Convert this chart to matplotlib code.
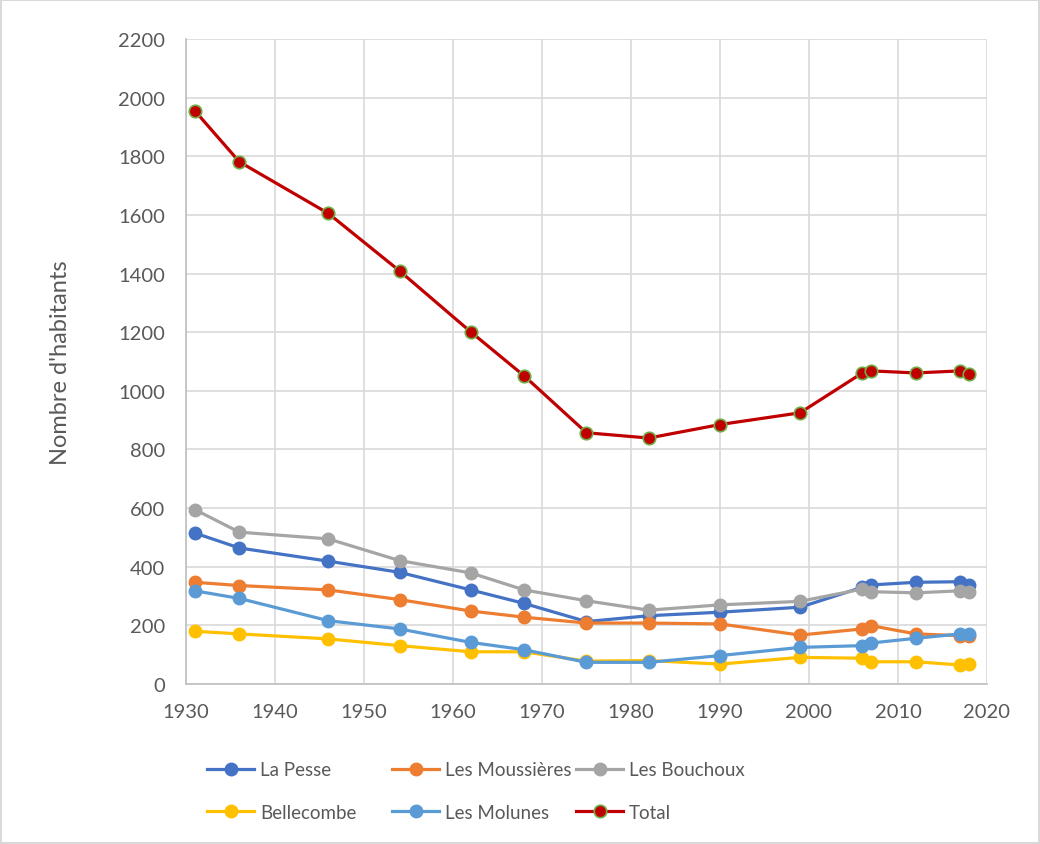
import matplotlib
matplotlib.use('Agg')
import matplotlib.pyplot as plt

# recensements
years = [1931, 1936, 1946, 1954, 1962, 1968, 1975, 1982, 1990, 1999, 2006, 2007, 2012, 2017, 2018]
la_pesse = [515, 464, 419, 381, 321, 275, 213, 233, 245, 262, 330, 338, 347, 349, 338]
moussieres = [347, 336, 321, 288, 249, 228, 208, 208, 205, 167, 188, 199, 171, 165, 165]
bouchoux = [595, 518, 495, 421, 379, 321, 284, 252, 270, 282, 324, 315, 311, 318, 313]
bellecombe = [180, 171, 154, 131, 110, 110, 78, 80, 68, 91, 88, 76, 76, 65, 70]
molunes = [318, 292, 216, 188, 142, 117, 74, 74, 97, 125, 131, 140, 156, 171, 171]
total = [1955, 1781, 1605, 1409, 1201, 1051, 857, 839, 885, 925, 1061, 1068, 1061, 1068, 1057]

plt.rcParams['font.family'] = ['Lato', 'DejaVu Sans']
txt = '#595959'

fig = plt.figure(figsize=(10.4, 8.45), dpi=100)
fig.patch.set_edgecolor('#d9d9d9')
fig.patch.set_linewidth(1.5)
ax = fig.add_axes([0.1788, 0.1893, 0.7702, 0.7634])

series = [
    ('La Pesse', la_pesse, '#4472c4'),
    ('Les Moussières', moussieres, '#ed7d31'),
    ('Les Bouchoux', bouchoux, '#a5a5a5'),
    ('Bellecombe', bellecombe, '#ffc000'),
    ('Les Molunes', molunes, '#5b9bd5'),
]
handles = {}
for name, vals, col in series:
    h, = ax.plot(years, vals, color=col, lw=2.3, marker='o', ms=9, label=name)
    handles[name] = h
h, = ax.plot(years, total, color='#c00000', lw=2.3, marker='o', ms=9,
             markerfacecolor='#c00000', markeredgecolor='#70ad47', markeredgewidth=1.2,
             label='Total')
handles['Total'] = h

ax.set_xlim(1930, 2020)
ax.set_ylim(0, 2200)
ax.set_xticks(range(1930, 2021, 10))
ax.set_yticks(range(0, 2201, 200))
ax.grid(True, color='#d9d9d9', lw=1.2)
ax.set_axisbelow(True)
for s in ['top', 'right']:
    ax.spines[s].set_visible(False)
for s in ['left', 'bottom']:
    ax.spines[s].set_color('#bfbfbf')
    ax.spines[s].set_linewidth(1.2)
ax.tick_params(length=0, labelsize=14.5, colors=txt)
ax.tick_params(axis='y', pad=15)
ax.tick_params(axis='x', pad=14)
ax.set_ylabel("Nombre d'habitants", fontsize=17, color=txt, labelpad=34)

# legende en 3 colonnes de largeur fixe (comme Excel)
cols = [['La Pesse', 'Bellecombe'], ['Les Moussières', 'Les Molunes'], ['Les Bouchoux', 'Total']]
xs = [0.1832, 0.3611, 0.5380]
for names, x in zip(cols, xs):
    leg = fig.legend([handles[k] for k in names], names, loc='center left',
                     bbox_to_anchor=(x, 0.0627), frameon=False, fontsize=13.5,
                     handlelength=2.5, handletextpad=0.3, labelspacing=1.35)
    for t in leg.get_texts():
        t.set_color(txt)

fig.savefig('out.png', dpi=100)
